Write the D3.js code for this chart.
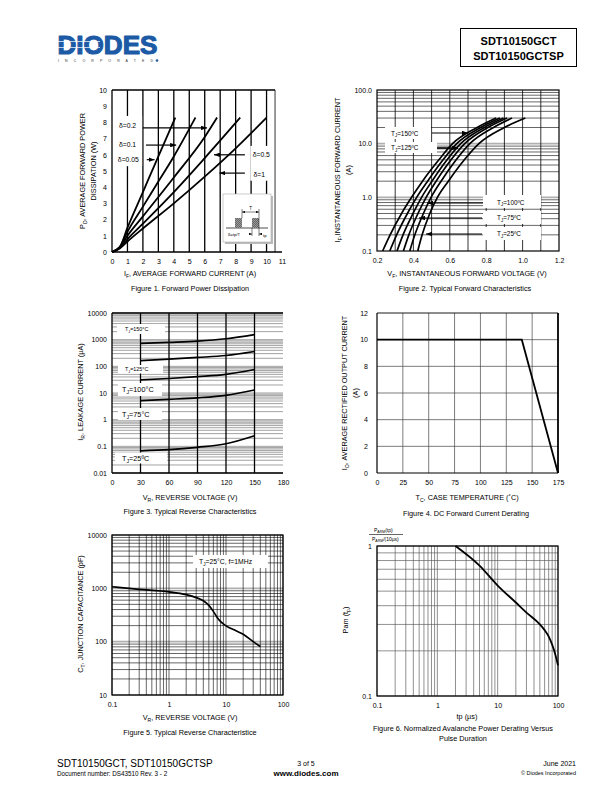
<!DOCTYPE html>
<html><head><meta charset="utf-8">
<script src="https://cdn.jsdelivr.net/npm/d3@7/dist/d3.min.js"></script>
<style>html,body{margin:0;padding:0;background:#fff}svg{display:block}</style>
</head><body>
<svg id="page" width="612" height="792" xmlns="http://www.w3.org/2000/svg"></svg>
<script>
// ================= DATA =================
// Figure 1 – Forward power dissipation  [I_F (A), P_D (W)]
const fig1XTicks = [0,1,2,3,4,5,6,7,8,9,10,11];
const fig1YTicks = [0,1,2,3,4,5,6,7,8,9,10];
const fig1Duty005 = [[0,0],[0.5,0.3],[1,1.5],[2,3.7],[3,5.9],[4.1,8.3]];
const fig1Duty01  = [[0,0],[0.5,0.3],[1,1.25],[2,2.8],[3,4.35],[4,5.9],[5.4,8.3]];
const fig1Duty02  = [[0,0],[0.5,0.28],[1,1.0],[2,2.2],[4,4.6],[6,7.1],[6.8,8.3]];
const fig1Duty05  = [[0,0],[0.5,0.25],[1,0.8],[2,1.75],[4,3.7],[6,5.8],[8.3,8.3]];
const fig1Duty1   = [[0,0],[0.5,0.22],[1,0.65],[2,1.45],[4,3.0],[6,4.65],[8,6.4],[10,8.3]];
const fig1Labels  = ["δ=0.05","δ=0.1","δ=0.2","δ=0.5","δ=1"];

// Figure 2 – Typical forward characteristics (V_F for each I_F)
const fig2XTicks = [0.2,0.4,0.6,0.8,1.0,1.2];
const fig2YTicks = [0.1,1,10,100];
const fig2Current = [0.1,0.2,0.5,1,2,5,10,20,30];
const fig2V150 = [0.231,0.272,0.335,0.39,0.45,0.54,0.615,0.75,0.855];
const fig2V125 = [0.27,0.308,0.367,0.418,0.478,0.563,0.638,0.77,0.875];
const fig2V100 = [0.31,0.343,0.398,0.445,0.502,0.585,0.66,0.79,0.895];
const fig2V75  = [0.345,0.375,0.425,0.47,0.525,0.607,0.682,0.81,0.915];
const fig2V50  = [0.38,0.408,0.455,0.497,0.552,0.635,0.71,0.84,0.942];
const fig2V25  = [0.424,0.448,0.49,0.532,0.592,0.68,0.76,0.9,1.015];
const fig2Labels = ["T","J","=150ºC","=125ºC","=100ºC","=75ºC","=25ºC"];

// Figure 3 – Typical reverse characteristics (I_R µA vs V_R)
const fig3XTicks = [0,30,60,90,120,150,180];
const fig3YTicks = [0.01,0.1,1,10,100,1000,10000];
const fig3Voltage = [30,60,90,120,150];
const fig3I150 = [720,790,880,1080,1550];
const fig3I125 = [165,185,215,255,360];
const fig3I100 = [31,35,41,50,76];
const fig3I75  = [5.2,5.8,6.6,8.2,13];
const fig3I25  = [0.068,0.075,0.092,0.125,0.25];

// Figure 4 – DC forward current derating
const fig4XTicks = [0,25,50,75,100,125,150,175];
const fig4YTicks = [0,2,4,6,8,10,12];
const fig4Temp    = [0,140,175];
const fig4Current = [10,10,0];

// Figure 5 – Junction capacitance
const fig5XTicks = [0.1,1,10,100];
const fig5YTicks = [10,100,1000,10000];
const fig5Voltage = [0.1,0.3,1,2,3,4,5,6,7,8,10,15,20,30,40];
const fig5Cap     = [1070,960,860,760,670,585,480,370,285,240,198,160,138,100,81];

// Figure 6 – Normalized avalanche power derating
const fig6XTicks = [0.1,1,10,100];
const fig6YTicks = [0.1,1];
const fig6Pulse = [2,5,10,20,30,50,60,70,80,90,100];
const fig6Pam   = [1,0.74,0.545,0.42,0.36,0.30,0.275,0.25,0.22,0.19,0.16];

// ================= DRAWING =================
const FF = "'Liberation Sans', Arial, Helvetica, sans-serif";
const svg = d3.select("#page");
const defs = svg.append("defs");
defs.append("marker").attr("id","ah").attr("viewBox","0 0 8 6").attr("refX",8).attr("refY",3)
  .attr("markerWidth",6).attr("markerHeight",4.5).attr("orient","auto").attr("markerUnits","userSpaceOnUse")
  .append("path").attr("d","M0,0L8,3L0,6Z").attr("fill","#000");
defs.append("marker").attr("id","ahs").attr("viewBox","0 0 8 6").attr("refX",8).attr("refY",3)
  .attr("markerWidth",3.5).attr("markerHeight",2.6).attr("orient","auto-start-reverse").attr("markerUnits","userSpaceOnUse")
  .append("path").attr("d","M0,0L8,3L0,6Z").attr("fill","#000");
const hatch = defs.append("pattern").attr("id","hatch").attr("width",2).attr("height",2).attr("patternUnits","userSpaceOnUse");
hatch.append("rect").attr("width",2).attr("height",2).attr("fill","#9a9a9a");
hatch.append("path").attr("d","M0,2L2,0").attr("stroke","#444").attr("stroke-width",0.6);

// text helper: parts = strings or {sub:".."}
function T(parent, x, y, parts, opt = {}) {
  const size = opt.size || 7.5;
  const t = parent.append("text").attr("x",x).attr("y",y).attr("font-family",FF)
    .attr("font-size",size).attr("fill",opt.fill || "#000").attr("text-anchor",opt.anchor || "start");
  if (opt.weight) t.attr("font-weight",opt.weight);
  if (opt.rotate) t.attr("transform",`rotate(-90,${x},${y})`);
  let shifted = 0;
  (Array.isArray(parts) ? parts : [parts]).forEach(p => {
    if (typeof p === "string") {
      const s = t.append("tspan").text(p);
      if (shifted) { s.attr("dy", -shifted); shifted = 0; }
    } else {
      const d = size * 0.28;
      t.append("tspan").attr("dy", d).attr("font-size", size * 0.7).text(p.sub);
      shifted = d;
    }
  });
  return t;
}
function vlines(g, vals, x, y0, y1, stroke, w) {
  g.append("g").selectAll("line").data(vals).join("line")
    .attr("x1",d=>x(d)).attr("x2",d=>x(d)).attr("y1",y0).attr("y2",y1)
    .attr("stroke",stroke).attr("stroke-width",w);
}
function hlines(g, vals, y, x0, x1, stroke, w) {
  g.append("g").selectAll("line").data(vals).join("line")
    .attr("y1",d=>y(d)).attr("y2",d=>y(d)).attr("x1",x0).attr("x2",x1)
    .attr("stroke",stroke).attr("stroke-width",w);
}
function axes(g, x, y, xt, yt, xf, yf, size = 7, xpad = 7, ypad = 5) {
  const ax = g.append("g").attr("transform",`translate(0,${y.range()[0]})`)
    .call(d3.axisBottom(x).tickValues(xt).tickFormat(xf).tickSize(0).tickPadding(xpad));
  ax.select(".domain").remove();
  ax.attr("font-family",FF).attr("font-size",size);
  ax.selectAll("text").attr("fill","#000");
  const ay = g.append("g").attr("transform",`translate(${x.range()[0]},0)`)
    .call(d3.axisLeft(y).tickValues(yt).tickFormat(yf).tickSize(0).tickPadding(ypad));
  ay.select(".domain").remove();
  ay.attr("font-family",FF).attr("font-size",size);
  ay.selectAll("text").attr("fill","#000");
}
function box(g, x0, y0, x1, y1) {
  g.append("rect").attr("x",x0).attr("y",y0).attr("width",x1-x0).attr("height",y1-y0).attr("fill","#fff");
}
function arrow(g, x0, y0, x1, y1, w = 1.2) {
  g.append("line").attr("x1",x0).attr("y1",y0).attr("x2",x1).attr("y2",y1)
    .attr("stroke","#000").attr("stroke-width",w).attr("marker-end","url(#ah)");
}
function curve(g, pts, x, y, w = 1.8) {
  g.append("path").datum(pts).attr("fill","none").attr("stroke","#000").attr("stroke-width",w)
    .attr("stroke-linejoin","round")
    .attr("d", d3.line().x(d=>x(d[0])).y(d=>y(d[1])).curve(d3.curveMonotoneX));
}
const frame = (g, x0, y0, x1, y1, w = 1.2, c = "#000") =>
  g.append("rect").attr("x",x0).attr("y",y0).attr("width",x1-x0).attr("height",y1-y0)
   .attr("fill","none").attr("stroke",c).attr("stroke-width",w);

// ---------- Header ----------
const hdr = svg.append("g");
T(hdr, 57.5, 54, "DIODES", {size: 25, weight: "bold", fill: "#1d5aa5"})
  .attr("textLength",100).attr("lengthAdjust","spacingAndGlyphs")
  .attr("stroke","#1d5aa5").attr("stroke-width",1.1).attr("stroke-linejoin","round");
hdr.append("g").selectAll("line").data([41.5, 47.5]).join("line")
  .attr("x1",57).attr("x2",100).attr("y1",d=>d).attr("y2",d=>d).attr("stroke","#fff").attr("stroke-width",0.7);
T(hdr, 58, 62.3, "I N C O R P O R A T E D", {size: 3.5, fill: "#333"}).attr("textLength",95).attr("lengthAdjust","spacing");
hdr.append("circle").attr("cx",157).attr("cy",60.5).attr("r",1.3).attr("fill","#1d5aa5");
hdr.append("rect").attr("x",460.5).attr("y",28.5).attr("width",116).attr("height",38).attr("fill","none").attr("stroke","#000").attr("stroke-width",1);
T(hdr, 518.5, 45, "SDT10150GCT", {size: 11, weight: "bold", anchor: "middle"});
T(hdr, 518.5, 60, "SDT10150GCTSP", {size: 11, weight: "bold", anchor: "middle"});

// ---------- Figure 1 ----------
{
  const g = svg.append("g");
  const x = d3.scaleLinear([0,11],[112,282]);
  const y = d3.scaleLinear([0,10],[252,90]);
  const right = x(10.55);
  vlines(g, d3.range(1,11), x, y(0), y(10), "#000", 1.3);
  g.append("line").attr("x1",x(0)).attr("x2",x(0)).attr("y1",y(0)).attr("y2",y(10)).attr("stroke","#000").attr("stroke-width",1.3);
  g.append("line").attr("x1",x(0)).attr("x2",right).attr("y1",y(10)).attr("y2",y(10)).attr("stroke","#000").attr("stroke-width",1.3);
  g.append("line").attr("x1",right).attr("x2",right).attr("y1",y(0)).attr("y2",y(10)).attr("stroke","#000").attr("stroke-width",0.8);
  g.append("line").attr("x1",x(0)).attr("x2",x(11)).attr("y1",y(0)).attr("y2",y(0)).attr("stroke","#000").attr("stroke-width",1.5);
  // label boxes
  box(g, x(0.25), y(8.4), x(1.95), y(5.3));
  box(g, x(8.95), y(6.55), x(10.45), y(4.4));
  [fig1Duty005, fig1Duty01, fig1Duty02, fig1Duty05, fig1Duty1].forEach(s => curve(g, s, x, y, 1.8));
  axes(g, x, y, fig1XTicks, fig1YTicks, d3.format("d"), d3.format("d"), 7, 7, 5);
  // labels & arrows
  const lab = [[fig1Labels[2],0.45,7.8],[fig1Labels[1],0.45,6.6],[fig1Labels[0],0.38,5.7],[fig1Labels[3],9.1,6.0],[fig1Labels[4],9.15,4.8]];
  lab.forEach(l => T(g, x(l[1]), y(l[2])+2.4, l[0], {size: 6.8}));
  arrow(g, x(2.0), y(7.66), x(6.15), y(7.66));
  arrow(g, x(2.2), y(6.6), x(4.15), y(6.6));
  arrow(g, x(2.25), y(5.7), x(2.75), y(5.7));
  arrow(g, x(8.6), y(6.0), x(6.6), y(6.0));
  arrow(g, x(8.6), y(4.87), x(6.95), y(4.87));
  // inset
  const ix = 223, iy = 194;
  g.append("rect").attr("x",ix+2).attr("y",iy+2).attr("width",48).attr("height",48).attr("fill","#bbb");
  g.append("rect").attr("x",ix).attr("y",iy).attr("width",48).attr("height",48).attr("fill","#fff").attr("stroke","#aaa").attr("stroke-width",0.6);
  g.append("line").attr("x1",ix+3).attr("x2",ix+45).attr("y1",iy+34).attr("y2",iy+34).attr("stroke","#000").attr("stroke-width",0.7);
  g.append("rect").attr("x",ix+12).attr("y",iy+24).attr("width",7).attr("height",10).attr("fill","url(#hatch)");
  g.append("rect").attr("x",ix+29).attr("y",iy+24).attr("width",7).attr("height",10).attr("fill","url(#hatch)");
  g.append("line").attr("x1",ix+19).attr("x2",ix+19).attr("y1",iy+15).attr("y2",iy+24).attr("stroke","#000").attr("stroke-width",0.5);
  g.append("line").attr("x1",ix+36).attr("x2",ix+36).attr("y1",iy+15).attr("y2",iy+42).attr("stroke","#000").attr("stroke-width",0.5);
  g.append("line").attr("x1",ix+29).attr("x2",ix+29).attr("y1",iy+34).attr("y2",iy+42).attr("stroke","#000").attr("stroke-width",0.5);
  g.append("line").attr("x1",ix+19).attr("x2",ix+36).attr("y1",iy+18).attr("y2",iy+18).attr("stroke","#000").attr("stroke-width",0.5)
    .attr("marker-start","url(#ahs)").attr("marker-end","url(#ahs)");
  g.append("line").attr("x1",ix+26).attr("x2",ix+29).attr("y1",iy+40).attr("y2",iy+40).attr("stroke","#000").attr("stroke-width",0.5).attr("marker-end","url(#ahs)");
  g.append("line").attr("x1",ix+39).attr("x2",ix+36).attr("y1",iy+40).attr("y2",iy+40).attr("stroke","#000").attr("stroke-width",0.5).attr("marker-end","url(#ahs)");
  T(g, ix+27.5, iy+16, "T", {size: 4.5, anchor: "middle"});
  T(g, ix+5, iy+42, "δ=tp/T", {size: 4.2});
  T(g, ix+40, iy+42.5, "tp", {size: 4.2});
  // titles
  T(g, 190, 276, ["I",{sub:"F"},", AVERAGE FORWARD CURRENT (A)"], {size: 7.3, anchor: "middle"});
  T(g, 85, 171, ["P",{sub:"D"},", AVERAGE FORWARD POWER"], {size: 7.3, anchor: "middle", rotate: true});
  T(g, 95.5, 171, "DISSIPATION (W)", {size: 7.3, anchor: "middle", rotate: true});
  T(g, 190, 291, "Figure 1. Forward Power Dissipation", {size: 7.3, anchor: "middle"});
}

// ---------- Figure 2 ----------
{
  const g = svg.append("g");
  const x = d3.scaleLinear([0.2,1.2],[377,559]);
  const y = d3.scaleLog([0.1,100],[251,90]);
  const minor = y.ticks().filter(v => ![0.1,1,10,100].includes(+v.toPrecision(3)));
  hlines(g, minor, y, x(0.2), x(1.2), "#000", 0.6);
  hlines(g, [1,10], y, x(0.2), x(1.2), "#b0b0b0", 1.6);
  vlines(g, d3.range(3,12).map(v=>v/10), x, y(0.1), y(100), "#000", 0.8);
  frame(g, x(0.2), y(100), x(1.2), y(0.1), 1.2);
  // label boxes
  box(g, 385, 127, 431, 139); box(g, 385, 142, 437, 153);
  box(g, 483, 195, 541, 208); box(g, 483, 211, 541, 224); box(g, 483, 227, 541, 240);
  [fig2V150, fig2V125, fig2V100, fig2V75, fig2V50, fig2V25].forEach(v =>
    curve(g, d3.zip(v, fig2Current), x, y, 1.7));
  axes(g, x, y, fig2XTicks, fig2YTicks, d3.format(".1f"), d3.format(".1f"), 7, 7, 5);
  const tl = (xx, yy, s, sz) => T(g, xx, yy, [fig2Labels[0],{sub:fig2Labels[1]},s], {size: sz});
  tl(391, 135.5, fig2Labels[2], 6.4);
  tl(391, 150, fig2Labels[3], 6.4);
  tl(497, 204.5, fig2Labels[4], 6.4);
  tl(497, 220, fig2Labels[5], 6.4);
  tl(497, 236, fig2Labels[6], 6.4);
  arrow(g, 432, 133, 468, 133);
  arrow(g, 437, 148, 458, 148, 1.6);
  arrow(g, 483, 203, 427, 203);
  arrow(g, 482, 218, 419, 218);
  arrow(g, 482, 234, 426, 234);
  T(g, 467, 276, ["V",{sub:"F"},", INSTANTANEOUS FORWARD VOLTAGE (V)"], {size: 7.3, anchor: "middle"});
  T(g, 340, 170, ["I",{sub:"F"},",INSTANTANEOUS FORWARD CURRENT"], {size: 7.3, anchor: "middle", rotate: true});
  T(g, 350.5, 170, "(A)", {size: 7.3, anchor: "middle", rotate: true});
  T(g, 465, 291, "Figure 2. Typical Forward Characteristics", {size: 7.3, anchor: "middle"});
}

// ---------- Figure 3 ----------
{
  const g = svg.append("g");
  const x = d3.scaleLinear([0,180],[112,283]);
  const y = d3.scaleLog([0.01,10000],[473,313]);
  hlines(g, y.ticks(), y, x(0), x(180), "#7a7a7a", 0.7);
  vlines(g, [30,60,90,120,150], x, y(0.01), y(10000), "#000", 1.3);
  g.append("line").attr("x1",x(0)).attr("x2",x(0)).attr("y1",y(0.01)).attr("y2",y(10000)).attr("stroke","#000").attr("stroke-width",1.3);
  g.append("line").attr("x1",x(0)).attr("x2",x(180)).attr("y1",y(0.01)).attr("y2",y(0.01)).attr("stroke","#000").attr("stroke-width",1.3);
  g.append("line").attr("x1",x(0)).attr("x2",x(180)).attr("y1",y(10000)).attr("y2",y(10000)).attr("stroke","#000").attr("stroke-width",1.3);
  box(g, 117, 324, 165, 334); box(g, 118, 365, 163, 373.5);
  box(g, 118, 383, 162, 396); box(g, 118, 408, 162, 420); box(g, 115, 452.5, 167, 463.5);
  [fig3I150, fig3I125, fig3I100, fig3I75, fig3I25].forEach(s =>
    curve(g, d3.zip(fig3Voltage, s), x, y, 1.7));
  axes(g, x, y, fig3XTicks, fig3YTicks, d3.format("d"), d => String(d), 7, 7, 5);
  T(g, 125, 331.3, ["T",{sub:"J"},"=150°C"], {size: 5.4});
  T(g, 125, 371.3, ["T",{sub:"J"},"=125°C"], {size: 5.4});
  T(g, 122, 391.5, ["T",{sub:"J"},"=100°C"], {size: 7.3});
  T(g, 122, 416.8, ["T",{sub:"J"},"=75°C"], {size: 7.3});
  T(g, 122, 461, ["T",{sub:"J"},"=25ºC"], {size: 7.3});
  T(g, 190, 500, ["V",{sub:"R"},", REVERSE VOLTAGE (V)"], {size: 7.3, anchor: "middle"});
  T(g, 82.5, 392, ["I",{sub:"R"},", LEAKAGE CURRENT (µA)"], {size: 7.3, anchor: "middle", rotate: true});
  T(g, 190, 514, "Figure 3. Typical Reverse Characteristics", {size: 7.3, anchor: "middle"});
}

// ---------- Figure 4 ----------
{
  const g = svg.append("g");
  const x = d3.scaleLinear([0,175],[377,558]);
  const y = d3.scaleLinear([0,12],[473,313]);
  vlines(g, [25,50,75,100,125,150], x, y(0), y(12), "#444", 0.7);
  hlines(g, [2,4,6,8,10], y, x(0), x(175), "#444", 0.7);
  g.append("line").attr("x1",x(0)).attr("x2",x(175)).attr("y1",y(12)).attr("y2",y(12)).attr("stroke","#000").attr("stroke-width",0.9);
  g.append("line").attr("x1",x(0)).attr("x2",x(0)).attr("y1",y(0)).attr("y2",y(12)).attr("stroke","#000").attr("stroke-width",1.2);
  g.append("line").attr("x1",x(0)).attr("x2",x(175)).attr("y1",y(0)).attr("y2",y(0)).attr("stroke","#000").attr("stroke-width",1.2);
  g.append("line").attr("x1",x(175)).attr("x2",x(175)).attr("y1",y(0)).attr("y2",y(12)).attr("stroke","#000").attr("stroke-width",1.8);
  g.append("path").datum(d3.zip(fig4Temp, fig4Current)).attr("fill","none").attr("stroke","#000").attr("stroke-width",1.8)
    .attr("d", d3.line().x(d=>x(d[0])).y(d=>y(d[1])));
  axes(g, x, y, fig4XTicks, fig4YTicks, d3.format("d"), d3.format("d"), 7, 7, 9);
  T(g, 467, 500, ["T",{sub:"C"},", CASE TEMPERATURE (",], {size: 7.3, anchor: "middle"}).append("tspan").text("˚C)");
  T(g, 347, 393, ["I",{sub:"O"},", AVERAGE RECTIFIED OUTPUT CURRENT"], {size: 7.3, anchor: "middle", rotate: true});
  T(g, 357.5, 393, "(A)", {size: 7.3, anchor: "middle", rotate: true});
  T(g, 466, 516, "Figure 4. DC Forward Current Derating", {size: 7.3, anchor: "middle"});
}

// ---------- Figure 5 ----------
{
  const g = svg.append("g");
  const x = d3.scaleLog([0.1,100],[112,283]);
  const y = d3.scaleLog([10,10000],[695,535]);
  hlines(g, y.ticks().filter(v=>![100,1000].includes(+v.toPrecision(3))), y, x(0.1), x(100), "#000", 0.6);
  hlines(g, [100,1000], y, x(0.1), x(100), "#b0b0b0", 1.6);
  vlines(g, x.ticks(), x, y(10), y(10000), "#000", 0.6);
  frame(g, x(0.1), y(10000), x(100), y(10), 1.2);
  box(g, 193, 555, 268, 568);
  curve(g, d3.zip(fig5Voltage, fig5Cap), x, y, 1.7);
  axes(g, x, y, fig5XTicks, fig5YTicks, d => String(d), d => String(d), 7, 7, 5);
  T(g, 199, 564, ["T",{sub:"J"},"=25°C, f=1MHz"], {size: 6.8});
  T(g, 190, 720, ["V",{sub:"R"},", REVERSE VOLTAGE (V)"], {size: 7.3, anchor: "middle"});
  T(g, 82.5, 614, ["C",{sub:"T"},", JUNCTION CAPACITANCE (pF)"], {size: 7.3, anchor: "middle", rotate: true});
  T(g, 190, 735, "Figure 5. Typical Reverse Characteristice", {size: 7.3, anchor: "middle"});
}

// ---------- Figure 6 ----------
{
  const g = svg.append("g");
  const x = d3.scaleLog([0.1,100],[377,558]);
  const y = d3.scaleLog([0.1,1],[696,546]);
  vlines(g, x.ticks(), x, y(0.1), y(1), "#555", 0.65);
  hlines(g, y.ticks(), y, x(0.1), x(100), "#555", 0.65);
  frame(g, x(0.1), y(1), x(100), y(0.1), 1.2);
  curve(g, d3.zip(fig6Pulse, fig6Pam), x, y, 1.8);
  axes(g, x, y, fig6XTicks, fig6YTicks, d => String(d), d => String(d), 7, 7, 5);
  T(g, 374, 532, ["P",{sub:"ARM"},"(tp)"], {size: 5});
  g.append("line").attr("x1",369).attr("x2",403).attr("y1",534.5).attr("y2",534.5).attr("stroke","#000").attr("stroke-width",0.6);
  T(g, 372, 541, ["P",{sub:"ARM"},"/(10µs)"], {size: 5});
  T(g, 467, 719, "tp (µs)", {size: 7.3, anchor: "middle"});
  T(g, 348, 620, ["Pam (t",{sub:"p"},")"], {size: 7.3, anchor: "middle", rotate: true});
  T(g, 463, 730.5, "Figure 6. Normalized Avalanche Power Derating Versus", {size: 7.3, anchor: "middle"});
  T(g, 463, 741, "Pulse Duration", {size: 7.3, anchor: "middle"});
}

// ---------- Footer ----------
{
  const g = svg.append("g");
  T(g, 57, 767, "SDT10150GCT, SDT10150GCTSP", {size: 10});
  T(g, 57, 776, "Document number: DS43510  Rev. 3 - 2", {size: 6.3});
  T(g, 306, 766, "3 of 5", {size: 7, anchor: "middle"});
  T(g, 306, 776, "www.diodes.com", {size: 8, anchor: "middle", weight: "bold"});
  T(g, 576, 766, "June 2021", {size: 7, anchor: "end"});
  T(g, 576, 775, "© Diodes Incorporated", {size: 5.5, anchor: "end"});
}
</script>
</body></html>
